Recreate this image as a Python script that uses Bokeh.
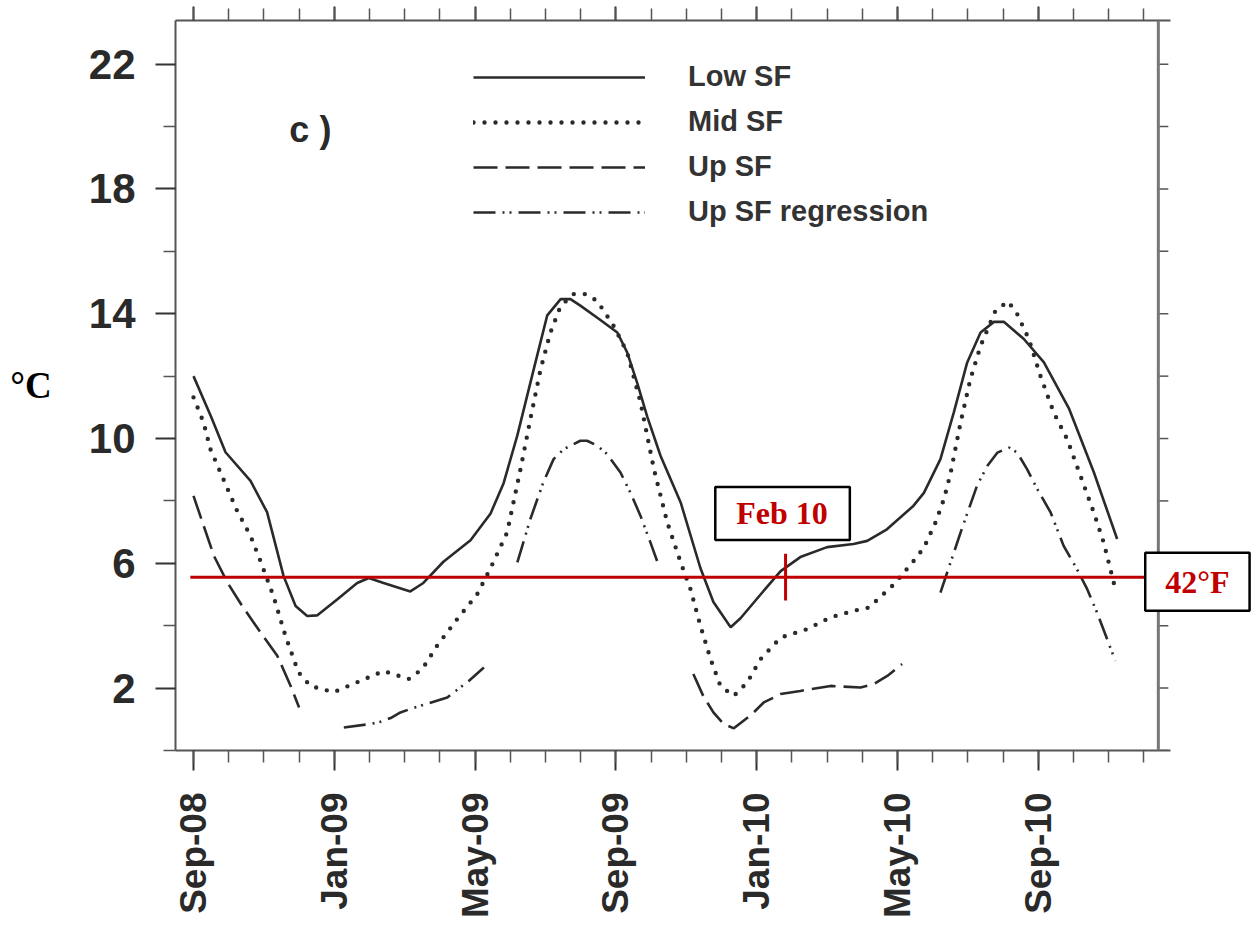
import math
from bokeh.plotting import figure
from bokeh.models import Range1d, FixedTicker, LinearAxis, Label, Legend, LegendItem, Span
from bokeh.embed import file_html
from bokeh.resources import INLINE

NaN = float("nan")

# ---------------- data (x = months after Sep-2008, y = deg C) ----------------
tick_months = [0, 4, 8, 12, 16, 20, 24]
tick_labels = ["Sep-08", "Jan-09", "May-09", "Sep-09", "Jan-10", "May-10", "Sep-10"]
month_minor = list(range(0, 28))
temp_ticks = [2, 6, 10, 14, 18, 22]
temp_minor = [0, 4, 8, 12, 16, 20]
temp_right_ticks = list(range(0, 24, 2))

low_sf_month = [0.0, 0.5, 0.91, 1.62, 2.09, 2.56, 2.90, 3.23, 3.51, 4.08, 4.65, 4.98, 5.40,
                6.16, 6.53, 7.10, 7.87, 8.44, 8.81, 9.20, 9.67, 10.05, 10.43, 10.71, 10.99,
                11.56, 12.04, 12.32, 12.60, 12.89, 13.27, 13.84, 14.40, 14.77, 15.26, 15.54,
                16.11, 16.68, 17.24, 18.00, 18.75, 19.14, 19.70, 20.45, 20.75, 21.22, 21.60,
                21.98, 22.36, 22.74, 23.02, 23.59, 24.16, 24.88, 25.58, 26.24]
low_sf_temp = [12.0, 10.7, 9.56, 8.64, 7.64, 5.59, 4.63, 4.31, 4.33, 4.84, 5.37, 5.53, 5.37,
               5.10, 5.37, 6.05, 6.74, 7.60, 8.57, 10.1, 12.24, 13.95, 14.47, 14.47, 14.26,
               13.8, 13.4, 12.76, 11.8, 10.7, 9.44, 7.95, 5.85, 4.76, 3.95, 4.24,
               5.0, 5.75, 6.2, 6.52, 6.62, 6.72, 7.09, 7.84, 8.26, 9.34, 10.84,
               12.44, 13.4, 13.74, 13.74, 13.19, 12.44, 10.94, 8.91, 6.78]

mid_sf_month = [0.0, 0.29, 0.48, 0.77, 1.24, 1.62, 1.90, 2.28, 2.61, 2.98, 3.32, 3.98, 4.74,
                5.40, 6.11, 6.50, 6.92, 7.49, 8.06, 8.44, 8.91, 9.29, 9.57, 9.86, 10.14,
                10.43, 10.80, 11.14, 11.47, 11.94, 12.32, 12.70, 13.08, 13.46, 13.84, 14.12,
                14.40, 14.69, 14.97, 15.35, 15.73, 16.11, 16.68, 17.43, 18.10, 18.76, 19.18,
                19.52, 19.90, 20.18, 20.46, 20.75, 21.08, 21.32, 21.51, 21.79, 22.07, 22.36,
                22.78, 23.14, 23.40, 23.73, 24.06, 24.44, 24.82, 25.20, 25.58, 25.86, 26.19]
mid_sf_temp = [11.32, 10.5, 9.66, 8.9, 7.68, 6.88, 6.08, 4.92, 3.68, 2.51, 2.07, 1.87, 2.23,
               2.55, 2.29, 2.61, 3.36, 4.21, 5.01, 5.85, 6.99, 9.02, 10.62, 12.22, 13.4,
               14.25, 14.63, 14.63, 14.41, 13.6, 12.76, 11.16, 9.02, 7.31, 6.03, 5.17,
               4.0, 2.93, 2.07, 1.75, 2.18, 2.93, 3.62, 3.89, 4.27, 4.48, 4.58,
               4.93, 5.33, 5.7, 6.08, 6.5, 7.31, 8.06, 8.9, 10.5, 11.9, 12.97,
               14.09, 14.4, 13.99, 13.19, 12.01, 10.83, 9.98, 8.8, 7.62, 6.66, 5.17]

up_sf_month = [0.0, 0.58, 0.96, 1.38, 1.90, 2.38, 2.76, 3.0, NaN,
               14.2, 14.48, 14.77, 15.06, 15.35, 15.87, 16.2, 16.68, 17.24, 18.1, 18.95,
               19.33, 19.71, 20.13]
up_sf_temp = [8.16, 6.24, 5.39, 4.64, 3.79, 3.04, 2.07, 1.38, NaN,
              2.45, 1.75, 1.22, 0.85, 0.71, 1.17, 1.54, 1.81, 1.91, 2.07, 2.02,
              2.13, 2.39, 2.77]

up_reg_month = [4.27, 5.03, 5.31, 5.60, 5.88, 6.21, 7.21, 7.82, 8.25, NaN,
                9.20, 9.57, 9.94, 10.23, 10.52, 10.99, 11.18, 11.47, 11.75, 12.13, 12.41,
                12.70, 12.98, 13.22, NaN,
                21.22, 21.79, 22.26, 22.55, 22.84, 23.17, 23.40, 23.68, 23.97, 24.35, 24.72,
                25.10, 25.39, 25.67, 26.19]
up_reg_temp = [0.74, 0.85, 0.92, 1.04, 1.22, 1.35, 1.70, 2.23, 2.66, NaN,
               6.03, 7.42, 8.6, 9.34, 9.66, 9.93, 9.93, 9.77, 9.5, 8.91, 8.27,
               7.52, 6.67, 5.92, NaN,
               5.06, 6.98, 8.49, 9.12, 9.55, 9.71, 9.55, 9.02, 8.38, 7.63, 6.56,
               5.81, 5.17, 4.42, 2.87]

series_names = ["Low SF", "Mid SF", "Up SF", "Up SF regression"]
threshold_f = 42
threshold_c = (threshold_f - 32) * 5 / 9
threshold_span = [-0.09, 27.05]        # months covered by the 42°F line
feb10_month = 16.82                      # "Feb 10" marker position
axis_bounds = (-0.9, 27.76)              # extent of the time axes
right_edge = 27.41                       # right border of the chart box

# ---------------- styling ----------------
INK = "#2a2a2a"
AXIS = "#555555"
RED = "#c00000"
SANS = "Liberation Sans"
SERIF = "Liberation Serif"
PX_PER_MONTH = 35.2

x_start = -18 / PX_PER_MONTH
frame_w = 1256 - 175
p = figure(frame_width=frame_w, frame_height=730,
           x_range=Range1d(x_start, x_start + frame_w / PX_PER_MONTH), y_range=Range1d(0, 23.4),
           output_backend="svg", toolbar_location=None,
           x_axis_location=None, y_axis_location=None,
           min_border_left=175, min_border_top=20, min_border_right=0, min_border_bottom=172)
p.outline_line_color = None
p.background_fill_color = "white"
p.border_fill_color = "white"
p.grid.visible = False

month_ticker = FixedTicker(ticks=tick_months, minor_ticks=month_minor)
temp_ticker = FixedTicker(ticks=temp_ticks, minor_ticks=temp_minor)


def style_axis(ax, major_out, minor_out):
    ax.axis_line_color = AXIS
    ax.axis_line_width = 2
    ax.major_tick_line_color = "#333333"
    ax.major_tick_line_width = 2
    ax.minor_tick_line_color = "#555555"
    ax.minor_tick_line_width = 1.5
    ax.major_tick_in = 0
    ax.minor_tick_in = 0
    ax.major_tick_out = major_out
    ax.minor_tick_out = minor_out


bottom = LinearAxis(ticker=month_ticker, bounds=axis_bounds,
                    major_label_overrides={m: l for m, l in zip(tick_months, tick_labels)})
style_axis(bottom, 20, 12)
bottom.major_label_orientation = math.pi / 2
bottom.major_label_standoff = 22
bottom.major_label_text_font = SANS
bottom.major_label_text_font_style = "bold"
bottom.major_label_text_font_size = "37px"
bottom.major_label_text_color = "#2a2a2a"
p.add_layout(bottom, "below")

top = LinearAxis(ticker=month_ticker, bounds=axis_bounds)
style_axis(top, 14, 12)
top.major_label_text_font_size = "1px"
top.major_label_text_color = None
top.major_label_standoff = 0
p.add_layout(top, "above")

left = LinearAxis(ticker=temp_ticker, axis_label="°C")
style_axis(left, 20, 12)
left.major_label_standoff = 20
left.major_label_text_font = SANS
left.major_label_text_font_style = "bold"
left.major_label_text_font_size = "42px"
left.major_label_text_color = "#2a2a2a"
left.axis_label_orientation = "horizontal"
left.axis_label_standoff = 34
left.axis_label_text_font = SERIF
left.axis_label_text_font_style = "bold"
left.axis_label_text_font_size = "37px"
left.axis_label_text_color = "black"
p.add_layout(left, "left")

# right border of the chart box with its outward ticks
p.add_layout(Span(location=right_edge, dimension="height", line_color="#777777", line_width=3))
p.segment(x0=[right_edge] * len(temp_right_ticks), y0=temp_right_ticks,
          x1=[right_edge + 10 / PX_PER_MONTH] * len(temp_right_ticks), y1=temp_right_ticks,
          line_color="#555555", line_width=1.5)

# ---------------- series ----------------
r_low = p.line(low_sf_month, low_sf_temp, line_color=INK, line_width=2.6)
r_mid = p.line(mid_sf_month, mid_sf_temp, line_color=INK, line_width=4.4,
               line_dash="0 11", line_cap="round")
r_up = p.line(up_sf_month, up_sf_temp, line_color=INK, line_width=2.6, line_dash="24 8")
r_reg = p.line(up_reg_month, up_reg_temp, line_color=INK, line_width=2.6,
               line_dash="22 7 2 5 2 7")

legend = Legend(items=[LegendItem(label=n, renderers=[r])
                       for n, r in zip(series_names, [r_low, r_mid, r_up, r_reg])],
                location=(298, 522), orientation="vertical",
                glyph_width=172, glyph_height=32, label_height=32, label_standoff=43,
                spacing=12, padding=0, margin=0,
                border_line_color=None, background_fill_alpha=0,
                label_text_font=SANS, label_text_font_style="bold",
                label_text_font_size="29px", label_text_color="#333333")
p.add_layout(legend)

# ---------------- annotations ----------------
p.segment(x0=[threshold_span[0]], y0=[threshold_c], x1=[threshold_span[1]], y1=[threshold_c],
          line_color=RED, line_width=3)
p.segment(x0=[feb10_month], y0=[threshold_c - 0.75], x1=[feb10_month], y1=[threshold_c + 0.75],
          line_color=RED, line_width=3)

# padding given as (left, right, top, bottom)
p.add_layout(Label(x=feb10_month, y=7.6, x_offset=-3, text="Feb 10",
                   text_align="center", text_baseline="middle",
                   text_font=SERIF, text_font_style="bold", text_font_size="32px",
                   text_color=RED, background_fill_color="white",
                   border_line_color="black", border_line_width=2.5,
                   padding=(21, 22, 8, 9)))
p.add_layout(Label(x=28.52, y=5.41, text=f"{threshold_f}°F",
                   text_align="center", text_baseline="middle",
                   text_font=SERIF, text_font_style="bold", text_font_size="32px",
                   text_color=RED, background_fill_color="white",
                   border_line_color="black", border_line_width=2.5,
                   padding=(20, 20, 11, 11)))
p.add_layout(Label(x=3.32, y=19.9, text="c )", text_align="center", text_baseline="middle",
                   text_font=SANS, text_font_style="bold", text_font_size="36px",
                   text_color="#2a2a2a"))

open("out.html", "w").write(file_html(p, INLINE))
